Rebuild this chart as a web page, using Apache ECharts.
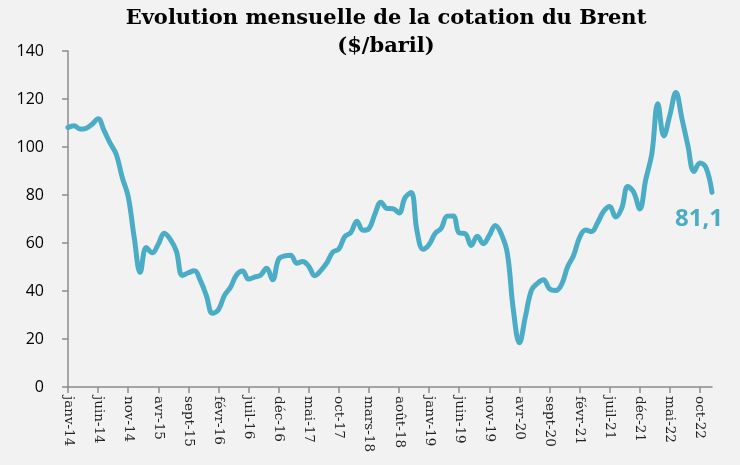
<!DOCTYPE html>
<html>
<head>
<meta charset="utf-8">
<script src="https://cdn.jsdelivr.net/npm/echarts@6/dist/echarts.min.js"></script>
<style>
  html, body { margin: 0; padding: 0; background: #f2f2f2; }
  #chart { width: 740px; height: 465px; }
</style>
</head>
<body>
<div id="chart"></div>
<script>
// month names and years used for the category axis
const monthNames = ["janv", "févr", "mars", "avr", "mai", "juin", "juil", "août", "sept", "oct", "nov", "déc"];
const years = ["14", "15", "16", "17", "18", "19", "20", "21", "22"];

// monthly Brent price, $/baril
const brent2014 = [108.1, 108.9, 107.5, 107.8, 109.5, 111.8, 106.8, 101.6, 97.1, 87.4, 79.4, 62.3];
const brent2015 = [47.8, 58.1, 55.9, 59.5, 64.1, 61.5, 56.6, 46.5, 47.6, 48.4, 44.3, 38.0];
const brent2016 = [30.7, 32.2, 38.2, 41.6, 46.7, 48.3, 45.0, 45.8, 46.6, 49.5, 44.7, 53.3];
const brent2017 = [54.6, 54.9, 51.6, 52.3, 50.3, 46.4, 48.5, 51.7, 56.2, 57.5, 62.7, 64.4];
const brent2018 = [69.1, 65.3, 66.0, 72.1, 77.0, 74.4, 74.3, 72.5, 78.9, 81.0, 64.8, 57.4];
const brent2019 = [59.4, 64.0, 66.1, 71.2, 71.3, 64.2, 63.9, 59.0, 62.8, 59.7, 63.2, 67.3];
const brent2020 = [63.7, 55.7, 32.0, 18.4, 29.4, 40.3, 43.2, 44.7, 40.9, 40.2, 42.7, 50.0];
const brent2021 = [54.8, 62.3, 65.4, 64.8, 68.5, 73.2, 75.2, 70.8, 74.5, 83.5, 81.1, 74.2];
const brent2022 = [86.5, 97.1, 118.0, 104.6, 113.3, 122.7, 111.9, 100.5, 89.8, 93.3, 91.4, 81.1];

const titleLines = ["Evolution mensuelle de la cotation du Brent", "($/baril)"];

const categories = [];
years.forEach(y => monthNames.forEach(m => categories.push(m + "-" + y)));

const values = [].concat(brent2014, brent2015, brent2016, brent2017, brent2018,
  brent2019, brent2020, brent2021, brent2022);

const lineColor = "#4bacc6";
const axisColor = "#8c8c8c";

const chart = echarts.init(document.getElementById("chart"), null, { renderer: "canvas" });

const option = {
  backgroundColor: "#f2f2f2",
  animation: false,
  graphic: [
    {
      type: "text",
      x: 386,
      y: 5,
      style: {
        text: titleLines.join("\n"),
        textAlign: "center",
        fontFamily: "DejaVu Serif",
        fontWeight: "bold",
        fontSize: 21,
        lineHeight: 28,
        fill: "#000"
      }
    }
  ],
  grid: {
    left: 68,
    right: 28,
    top: 51,
    bottom: 78,
    outerBoundsMode: "none"
  },
  xAxis: {
    type: "category",
    data: categories,
    boundaryGap: false,
    axisLine: { lineStyle: { color: axisColor, width: 1.5 } },
    axisTick: {
      show: true,
      interval: 4,
      length: 6,
      inside: false,
      lineStyle: { color: axisColor, width: 1.5 }
    },
    axisLabel: {
      interval: 4,
      rotate: -90,
      margin: 9,
      fontFamily: "DejaVu Serif",
      fontSize: 13.5,
      color: "#222"
    }
  },
  yAxis: {
    type: "value",
    min: 0,
    max: 140,
    interval: 20,
    splitLine: { show: false },
    axisLine: { show: true, lineStyle: { color: axisColor, width: 1.5 } },
    axisTick: { show: true, length: 6, lineStyle: { color: axisColor, width: 1.5 } },
    axisLabel: {
      margin: 24,
      fontFamily: "Open Sans",
      fontSize: 16,
      color: "#000"
    }
  },
  series: [
    {
      type: "line",
      data: values,
      smooth: 0.4,
      showSymbol: false,
      symbol: "none",
      lineStyle: { color: lineColor, width: 5, cap: "round", join: "round" },
      itemStyle: { color: lineColor },
      endLabel: {
        show: true,
        distance: 0,
        offset: [-37, 27],
        formatter: p => String(p.value).replace(".", ","),
        color: lineColor,
        fontFamily: "Open Sans",
        fontWeight: "bold",
        fontSize: 24
      },
      z: 3
    }
  ]
};

chart.setOption(option);
</script>
</body>
</html>
